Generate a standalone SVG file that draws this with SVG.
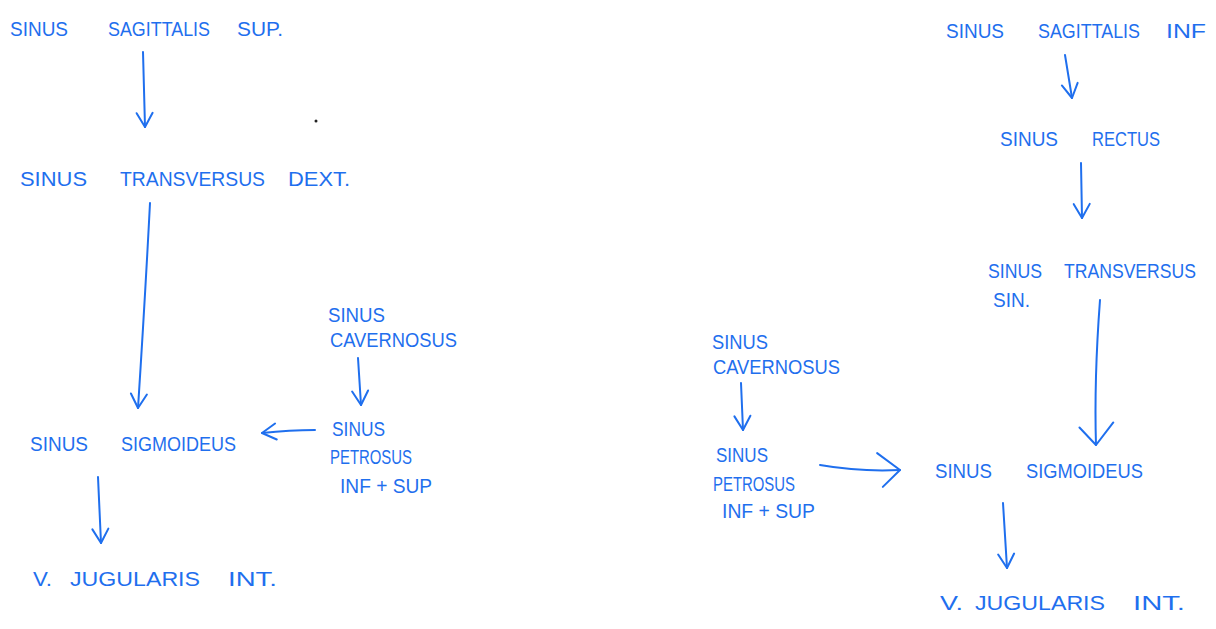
<svg xmlns="http://www.w3.org/2000/svg" width="1216" height="629" viewBox="0 0 1216 629">
<style>
  .t { font-family: "Liberation Sans", Arial, sans-serif; font-size: 20px; fill: #1f6fee; }
  .c path { fill: none; stroke: #1f6fee; stroke-width: 2; stroke-linecap: round; stroke-linejoin: round; }
</style>
<defs>
  <marker id="ah" viewBox="0 0 20 20" refX="17" refY="10" markerWidth="20" markerHeight="20" markerUnits="userSpaceOnUse" orient="auto">
    <path d="M3,2 L17,10 L3,18" fill="none" stroke="#1f6fee" stroke-width="2" stroke-linecap="round" stroke-linejoin="round"/>
  </marker>
  <marker id="ahw" viewBox="0 0 30 40" refX="27" refY="20" markerWidth="30" markerHeight="40" markerUnits="userSpaceOnUse" orient="auto">
    <path d="M5,2 L27,20 L9,36" fill="none" stroke="#1f6fee" stroke-width="2" stroke-linecap="round" stroke-linejoin="round"/>
  </marker>
</defs>
<rect width="1216" height="629" fill="#ffffff"/>

<g id="left-sag-sup" class="t">
  <text x="10" y="36" textLength="58" lengthAdjust="spacingAndGlyphs">SINUS</text>
  <text x="108" y="36" textLength="102" lengthAdjust="spacingAndGlyphs">SAGITTALIS</text>
  <text x="237" y="36" textLength="46" lengthAdjust="spacingAndGlyphs">SUP.</text>
</g>
<g id="left-transv" class="t">
  <text x="20" y="186" textLength="67" lengthAdjust="spacingAndGlyphs">SINUS</text>
  <text x="120" y="186" textLength="145" lengthAdjust="spacingAndGlyphs">TRANSVERSUS</text>
  <text x="288" y="186" textLength="62" lengthAdjust="spacingAndGlyphs">DEXT.</text>
</g>
<g id="left-cav" class="t">
  <text x="328" y="322" textLength="57" lengthAdjust="spacingAndGlyphs">SINUS</text>
  <text x="330" y="347" textLength="127" lengthAdjust="spacingAndGlyphs">CAVERNOSUS</text>
</g>
<g id="left-petr" class="t">
  <text x="332" y="436" textLength="53" lengthAdjust="spacingAndGlyphs">SINUS</text>
  <text x="330" y="464" textLength="82" lengthAdjust="spacingAndGlyphs">PETROSUS</text>
  <text x="340" y="493" textLength="92" lengthAdjust="spacingAndGlyphs">INF + SUP</text>
</g>
<g id="left-sigm" class="t">
  <text x="30" y="451" textLength="58" lengthAdjust="spacingAndGlyphs">SINUS</text>
  <text x="121" y="451" textLength="115" lengthAdjust="spacingAndGlyphs">SIGMOIDEUS</text>
</g>
<g id="left-jug" class="t">
  <text x="33" y="586" textLength="19" lengthAdjust="spacingAndGlyphs">V.</text>
  <text x="70" y="586" textLength="130" lengthAdjust="spacingAndGlyphs">JUGULARIS</text>
  <text x="228" y="586" textLength="49" lengthAdjust="spacingAndGlyphs">INT.</text>
</g>
<g id="stray-dot"><circle cx="316" cy="121" r="1.5" fill="#222"/></g>

<g id="right-sag-inf" class="t">
  <text x="946" y="38" textLength="58" lengthAdjust="spacingAndGlyphs">SINUS</text>
  <text x="1038" y="38" textLength="102" lengthAdjust="spacingAndGlyphs">SAGITTALIS</text>
  <text x="1166" y="38" textLength="40" lengthAdjust="spacingAndGlyphs">INF</text>
</g>
<g id="right-rectus" class="t">
  <text x="1000" y="146" textLength="58" lengthAdjust="spacingAndGlyphs">SINUS</text>
  <text x="1092" y="146" textLength="68" lengthAdjust="spacingAndGlyphs">RECTUS</text>
</g>
<g id="right-transv" class="t">
  <text x="988" y="278" textLength="54" lengthAdjust="spacingAndGlyphs">SINUS</text>
  <text x="1064" y="278" textLength="132" lengthAdjust="spacingAndGlyphs">TRANSVERSUS</text>
  <text x="993" y="307" textLength="37" lengthAdjust="spacingAndGlyphs">SIN.</text>
</g>
<g id="right-cav" class="t">
  <text x="712" y="349" textLength="56" lengthAdjust="spacingAndGlyphs">SINUS</text>
  <text x="713" y="374" textLength="127" lengthAdjust="spacingAndGlyphs">CAVERNOSUS</text>
</g>
<g id="right-petr" class="t">
  <text x="716" y="462" textLength="52" lengthAdjust="spacingAndGlyphs">SINUS</text>
  <text x="713" y="491" textLength="82" lengthAdjust="spacingAndGlyphs">PETROSUS</text>
  <text x="722" y="518" textLength="93" lengthAdjust="spacingAndGlyphs">INF + SUP</text>
</g>
<g id="right-sigm" class="t">
  <text x="935" y="478" textLength="57" lengthAdjust="spacingAndGlyphs">SINUS</text>
  <text x="1026" y="478" textLength="117" lengthAdjust="spacingAndGlyphs">SIGMOIDEUS</text>
</g>
<g id="right-jug" class="t">
  <text x="940" y="610" textLength="23" lengthAdjust="spacingAndGlyphs">V.</text>
  <text x="975" y="610" textLength="130" lengthAdjust="spacingAndGlyphs">JUGULARIS</text>
  <text x="1133" y="610" textLength="52" lengthAdjust="spacingAndGlyphs">INT.</text>
</g>

<g id="connectors" class="c">
  <path d="M143,52 Q144,90 145,127" marker-end="url(#ah)"/>
  <path d="M150,203 Q145,300 138,408" marker-end="url(#ah)"/>
  <path d="M358,358 L361,405" marker-end="url(#ah)"/>
  <path d="M315,430 Q290,430 262,433" marker-end="url(#ah)"/>
  <path d="M98,477 L101,543" marker-end="url(#ah)"/>
  <path d="M1065,55 L1072,98" marker-end="url(#ah)"/>
  <path d="M1081,163 L1082,218" marker-end="url(#ah)"/>
  <path d="M1100,300 Q1094,380 1096,445" marker-end="url(#ahw)"/>
  <path d="M741,383 L743,430" marker-end="url(#ah)"/>
  <path d="M820,465 Q860,472 900,470" marker-end="url(#ahw)"/>
  <path d="M1003,503 L1007,568" marker-end="url(#ah)"/>
</g>
</svg>
